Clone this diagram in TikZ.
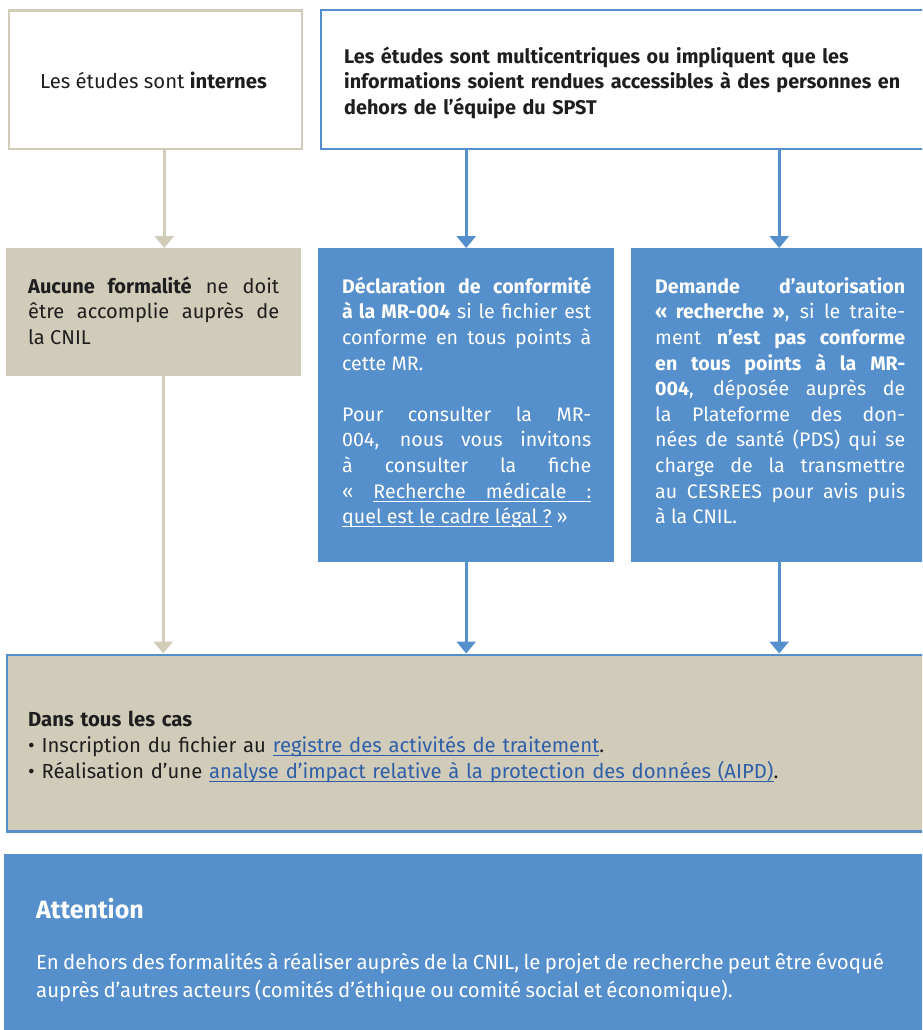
\documentclass[tikz,border=0pt]{standalone}
\usepackage{fontspec}
\setmainfont{Fira Sans}
\usetikzlibrary{arrows.meta,calc}
\definecolor{cblue}{HTML}{5590CC}
\definecolor{ctan}{HTML}{D1CBBA}
\definecolor{clink}{HTML}{2E5FA8}
\definecolor{ctext}{HTML}{1E1E1E}
\newcommand{\ulword}[1]{\setbox0\hbox{#1}\rlap{\rule[-3.5pt]{\wd0}{1pt}}\box0}
\newcommand{\ulsp}{\leaders\hrule height -2.5pt depth 3.5pt\hskip\fontdimen2\font plus\fontdimen3\font minus\fontdimen4\font}
\newcommand{\lnk}[1]{\textcolor{clink}{\ulword{#1}}}
\tikzset{
  tanbox/.style={draw=ctan, line width=2.5pt, fill=white, inner sep=0pt, anchor=north west},
  blueframe/.style={draw=cblue, line width=2pt, fill=white, inner sep=0pt, anchor=north west},
  tanfill/.style={fill=ctan, inner sep=0pt, anchor=north west},
  bluefill/.style={fill=cblue, inner sep=0pt, anchor=north west},
  sumbox/.style={draw=cblue, line width=2.5pt, fill=ctan, inner sep=0pt, anchor=north west},
  txt/.style={inner sep=0pt, anchor=north west, text=ctext, font=\fontsize{20.3}{25.6}\selectfont},
  wtxt/.style={txt, text=white, font=\fontsize{19.6}{25.6}\selectfont},
  just/.style={align=justify, execute at begin node={\tolerance=10000\hyphenpenalty=10000\exhyphenpenalty=10000}},
  tanarrow/.style={draw=ctan, line width=3pt, -{Triangle[width=19pt,length=12pt]}},
  bluearrow/.style={draw=cblue, line width=3pt, -{Triangle[width=19pt,length=12pt]}}
}
\begin{document}
\begin{tikzpicture}[x=1pt,y=-1pt]
\useasboundingbox (0,0) rectangle (922,1030);
\clip (0,0) rectangle (922,1030);
% boxes
\node[tanbox, minimum width=293pt, minimum height=138.5pt] (A) at (7.5,9.25) {};
\node[blueframe, minimum width=640pt, minimum height=139pt] (B) at (319.5,9) {};
\node[tanfill, minimum width=295pt, minimum height=128pt] (C) at (6,248) {};
\node[bluefill, minimum width=296pt, minimum height=314pt] (D) at (318,248) {};
\node[bluefill, minimum width=296pt, minimum height=314pt] (E) at (631,248) {};
\node[sumbox, minimum width=930pt, minimum height=176.5pt] (F) at (5.5,653.5) {};
\node[bluefill, minimum width=1000pt, minimum height=190pt] (G) at (4,854) {};
% texts
\node[txt, anchor=base] (tA) at (153.5,89) {Les études sont \textbf{internes}};
\node[txt, text width=570pt, align=left, font=\fontsize{19.8}{25.6}\selectfont] (tB) at (344,45.1) {\strut\bfseries Les études sont multicentriques ou impliquent que les\\ informations soient rendues accessibles à des personnes en\\ dehors de l’équipe du SPST};
\node[txt, just, text width=251pt, font=\fontsize{20}{25.6}\selectfont] (tC) at (28,275.1) {\strut\textbf{Aucune formalité} ne doit\linebreak être accomplie auprès de\linebreak la CNIL};
\node[wtxt, just, text width=249pt] (tD) at (342,275.1) {\strut\textbf{Déclaration de conformité}\linebreak \textbf{à la MR-004} si le fichier est\linebreak conforme en tous points à\linebreak cette MR.\par\vspace{25.6pt}
Pour consulter la MR-\linebreak 004, nous vous invitons\linebreak à consulter la fiche\linebreak «~\ulword{Recherche}\ulsp\ulword{médicale}\ulsp\ulword{:}\linebreak \ulword{quel}\ulsp\ulword{est}\ulsp\ulword{le}\ulsp\ulword{cadre}\ulsp\ulword{légal}\ulsp\ulword{?}~»};
\node[wtxt, just, text width=250pt] (tE) at (655,275.1) {\strut\textbf{Demande d’autorisation}\linebreak \textbf{«~recherche~»}, si le traite-\linebreak ment \textbf{n’est pas conforme}\linebreak \textbf{en tous points à la MR-}\linebreak \textbf{004}, déposée auprès de\linebreak la Plateforme des don-\linebreak nées de santé (PDS) qui se\linebreak charge de la transmettre\linebreak au CESREES pour avis puis\linebreak à la CNIL.};
\node[txt, text width=880pt, align=left, font=\fontsize{20.3}{26}\selectfont] (tF) at (28,708.1) {\strut\textbf{Dans tous les cas}\\ • Inscription du fichier au \lnk{registre des activités de traitement}.\\ • Réalisation d’une \lnk{analyse d’impact relative à la protection des données (AIPD)}.};
\node[wtxt, text width=960pt, align=left, font=\fontsize{25}{28}\selectfont] (tG) at (36,898.4) {\strut\textbf{Attention}\par\vspace{24pt}\fontsize{20.4}{27}\selectfont\spaceskip=0.8\fontdimen2\font plus 0.5\fontdimen3\font\rightskip=0pt plus 1fil\relax En dehors des formalités à réaliser auprès de la CNIL, le projet de recherche peut être évoqué\\ auprès d’autres acteurs (comités d’éthique ou comité social et économique).};
% connectors
\draw[tanarrow] ([xshift=9pt]A.south) -- ([xshift=9pt]A.south |- C.north);
\draw[tanarrow] ([xshift=9.5pt]C.south) -- ([xshift=9.5pt]C.south |- F.north);
\draw[bluearrow] (D.north |- B.south) -- (D.north);
\draw[bluearrow] (E.north |- B.south) -- (E.north);
\draw[bluearrow] (D.south) -- (D.south |- F.north);
\draw[bluearrow] (E.south) -- (E.south |- F.north);
\end{tikzpicture}
\end{document}
